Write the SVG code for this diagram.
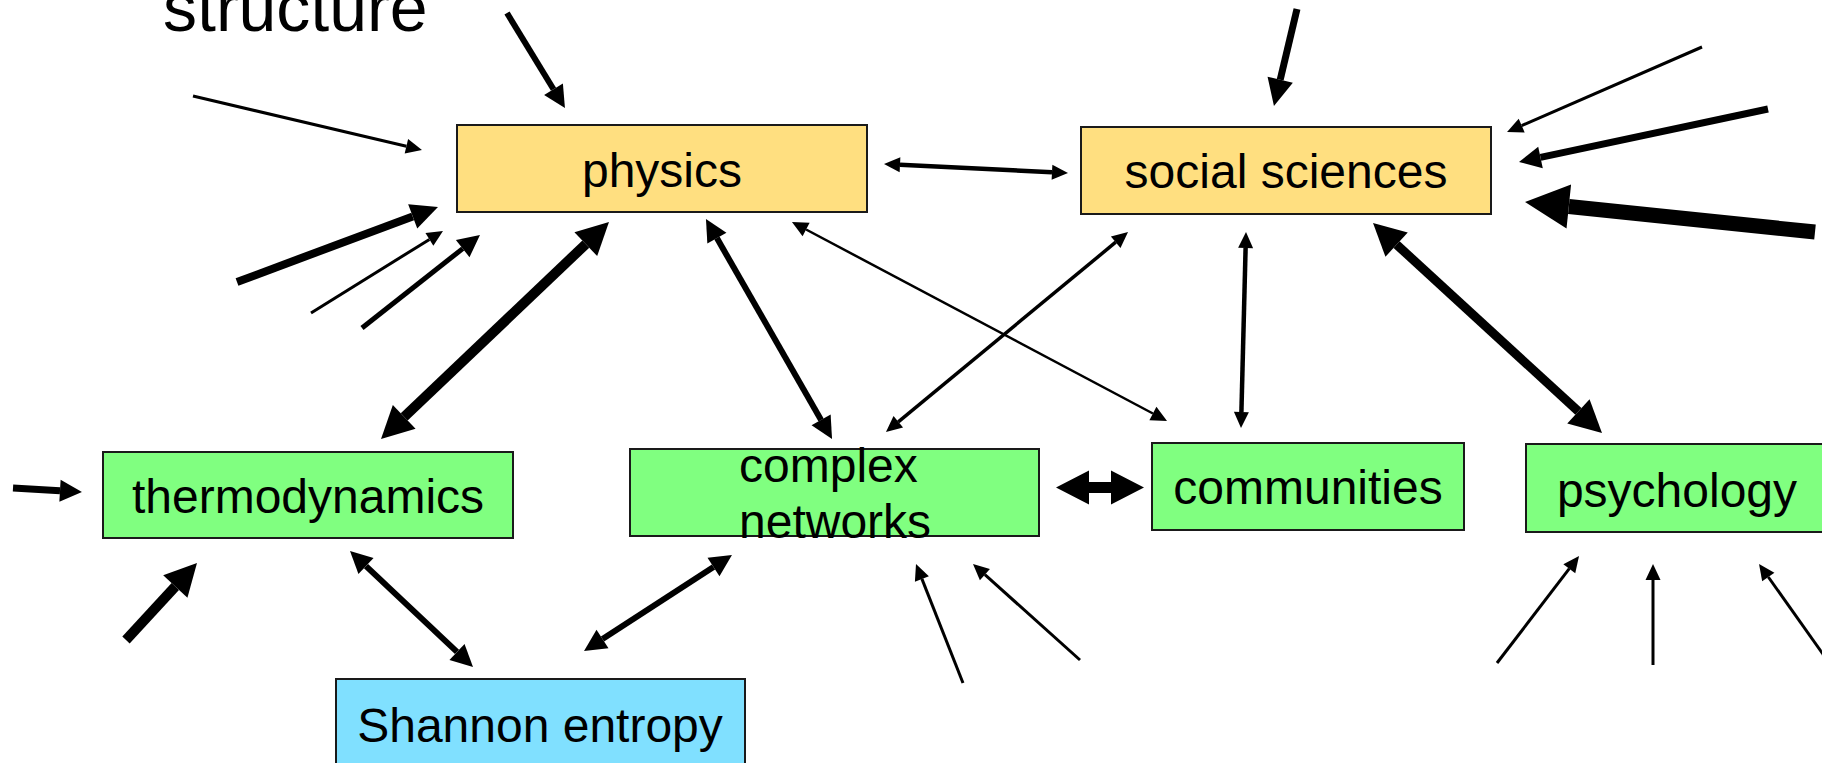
<svg xmlns="http://www.w3.org/2000/svg" width="1822" height="763" viewBox="0 0 1822 763">
  <style>
    .box { stroke: #1a1a1a; stroke-width: 2; }
    .phys { fill: #FFDF80; }
    .field { fill: #80FF80; }
    .info { fill: #80E0FF; }
    .lbl { font-family: "Liberation Sans", Arial, sans-serif; font-size: 48px; fill: #000; }
    .big { font-family: "Liberation Sans", Arial, sans-serif; font-size: 68px; fill: #000; }
    .ln { stroke: #000; fill: none; stroke-linecap: butt; }
    .s { marker-end: url(#hs); }
    .m { marker-end: url(#hm); }
    .ml { marker-end: url(#hml); }
    .l { marker-end: url(#hl); }
    .x { marker-end: url(#hx); }
    .ds { marker-start: url(#hs); marker-end: url(#hs); }
    .dm { marker-start: url(#hm); marker-end: url(#hm); }
    .dl { marker-start: url(#hl); marker-end: url(#hl); }
  </style>
  <defs>
    <!-- arrowheads drawn from their base (ref point) to the tip -->
    <marker id="hs" markerUnits="userSpaceOnUse" orient="auto-start-reverse" refX="0" refY="0" markerWidth="20" markerHeight="20" overflow="visible">
      <path d="M0,-7.5 L16,0 L0,7.5 Z" fill="#000"/>
    </marker>
    <marker id="hm" markerUnits="userSpaceOnUse" orient="auto-start-reverse" refX="0" refY="0" markerWidth="30" markerHeight="30" overflow="visible">
      <path d="M0,-11 L22,0 L0,11 Z" fill="#000"/>
    </marker>
    <marker id="hml" markerUnits="userSpaceOnUse" orient="auto-start-reverse" refX="0" refY="0" markerWidth="30" markerHeight="30" overflow="visible">
      <path d="M0,-13 L27,0 L0,13 Z" fill="#000"/>
    </marker>
    <marker id="hl" markerUnits="userSpaceOnUse" orient="auto-start-reverse" refX="0" refY="0" markerWidth="40" markerHeight="40" overflow="visible">
      <path d="M0,-16.5 L32,0 L0,16.5 Z" fill="#000"/>
    </marker>
    <marker id="hx" markerUnits="userSpaceOnUse" orient="auto-start-reverse" refX="0" refY="0" markerWidth="50" markerHeight="50" overflow="visible">
      <path d="M0,-22 L44,0 L0,22 Z" fill="#000"/>
    </marker>
  </defs>

  <!-- free-standing heading -->
  <text class="big" x="163" y="31">structure</text>

  <!-- connectors -->
  <g id="connectors">
    <!-- into physics -->
    <line class="ln m" x1="507" y1="13" x2="553.5" y2="89.2" stroke-width="6"/>
    <line class="ln s" x1="193" y1="96" x2="406.4" y2="146.3" stroke-width="3"/>
    <line class="ln ml" x1="237" y1="282" x2="412.7" y2="216.4" stroke-width="8"/>
    <line class="ln s" x1="311" y1="313" x2="429.4" y2="239.4" stroke-width="3"/>
    <line class="ln m" x1="362" y1="328" x2="462.7" y2="248.6" stroke-width="5"/>
    <!-- physics links -->
    <line class="ln dl" x1="585.8" y1="244.1" x2="404.2" y2="416.9" stroke-width="10"/>
    <line class="ln dm" x1="716.9" y1="238.1" x2="821.1" y2="419.9" stroke-width="6"/>
    <line class="ln ds" x1="806.1" y1="229.5" x2="1152.9" y2="413.5" stroke-width="2.5"/>
    <line class="ln ds" x1="900" y1="164.8" x2="1052" y2="172.2" stroke-width="4.5"/>
    <!-- social sciences links -->
    <line class="ln ds" x1="1115.7" y1="242.2" x2="898.3" y2="421.8" stroke-width="3.5"/>
    <line class="ln ds" x1="1245.6" y1="248" x2="1241.4" y2="412" stroke-width="4.5"/>
    <line class="ln dl" x1="1396.6" y1="244.6" x2="1578.4" y2="411.4" stroke-width="9"/>
    <!-- into social sciences -->
    <line class="ln ml" x1="1297" y1="9" x2="1280.2" y2="79.7" stroke-width="7"/>
    <line class="ln s" x1="1702" y1="47" x2="1521.7" y2="125.6" stroke-width="3"/>
    <line class="ln m" x1="1768" y1="109" x2="1540.5" y2="157.4" stroke-width="7"/>
    <line class="ln x" x1="1815" y1="232" x2="1568.8" y2="206.5" stroke-width="15"/>
    <!-- into thermodynamics -->
    <line class="ln m" x1="13" y1="488" x2="60" y2="490.7" stroke-width="7"/>
    <line class="ln l" x1="126" y1="640" x2="175.3" y2="586.5" stroke-width="10"/>
    <!-- Shannon entropy links -->
    <line class="ln dm" x1="366" y1="566.1" x2="457" y2="651.9" stroke-width="6"/>
    <line class="ln dm" x1="602.5" y1="639" x2="713.5" y2="567" stroke-width="6"/>
    <!-- into complex networks -->
    <line class="ln s" x1="963" y1="683" x2="921.9" y2="578.9" stroke-width="3"/>
    <line class="ln s" x1="1080" y1="660" x2="984.9" y2="574.7" stroke-width="3"/>
    <!-- complex networks / communities block arrow -->
    <polygon points="1056,487.5 1089,470.5 1089,482 1111,482 1111,470.5 1144,487.5 1111,504.5 1111,493 1089,493 1089,504.5" fill="#000"/>
    <!-- into psychology -->
    <line class="ln s" x1="1497" y1="663" x2="1569.3" y2="568.7" stroke-width="3"/>
    <line class="ln s" x1="1653" y1="665" x2="1653" y2="580" stroke-width="3"/>
    <line class="ln s" x1="1830" y1="664" x2="1768.3" y2="577" stroke-width="3"/>
  </g>

  <!-- nodes -->
  <g id="physics">
    <rect class="box phys" x="457" y="125" width="410" height="87"/>
    <text class="lbl" x="662" y="187" text-anchor="middle">physics</text>
  </g>
  <g id="social-sciences">
    <rect class="box phys" x="1081" y="127" width="410" height="87"/>
    <text class="lbl" x="1286" y="188" text-anchor="middle">social sciences</text>
  </g>
  <g id="thermodynamics">
    <rect class="box field" x="103" y="452" width="410" height="86"/>
    <text class="lbl" x="308" y="513" text-anchor="middle">thermodynamics</text>
  </g>
  <g id="complex-networks">
    <rect class="box field" x="630" y="449" width="409" height="87"/>
    <text class="lbl" x="739" y="482">complex</text>
    <text class="lbl" x="739" y="538">networks</text>
  </g>
  <g id="communities">
    <rect class="box field" x="1152" y="443" width="312" height="87"/>
    <text class="lbl" x="1308" y="504" text-anchor="middle">communities</text>
  </g>
  <g id="psychology">
    <rect class="box field" x="1526" y="444" width="306" height="88"/>
    <text class="lbl" x="1677" y="507" text-anchor="middle">psychology</text>
  </g>
  <g id="shannon-entropy">
    <rect class="box info" x="336" y="679" width="409" height="100"/>
    <text class="lbl" x="540" y="742" text-anchor="middle">Shannon entropy</text>
  </g>
</svg>
